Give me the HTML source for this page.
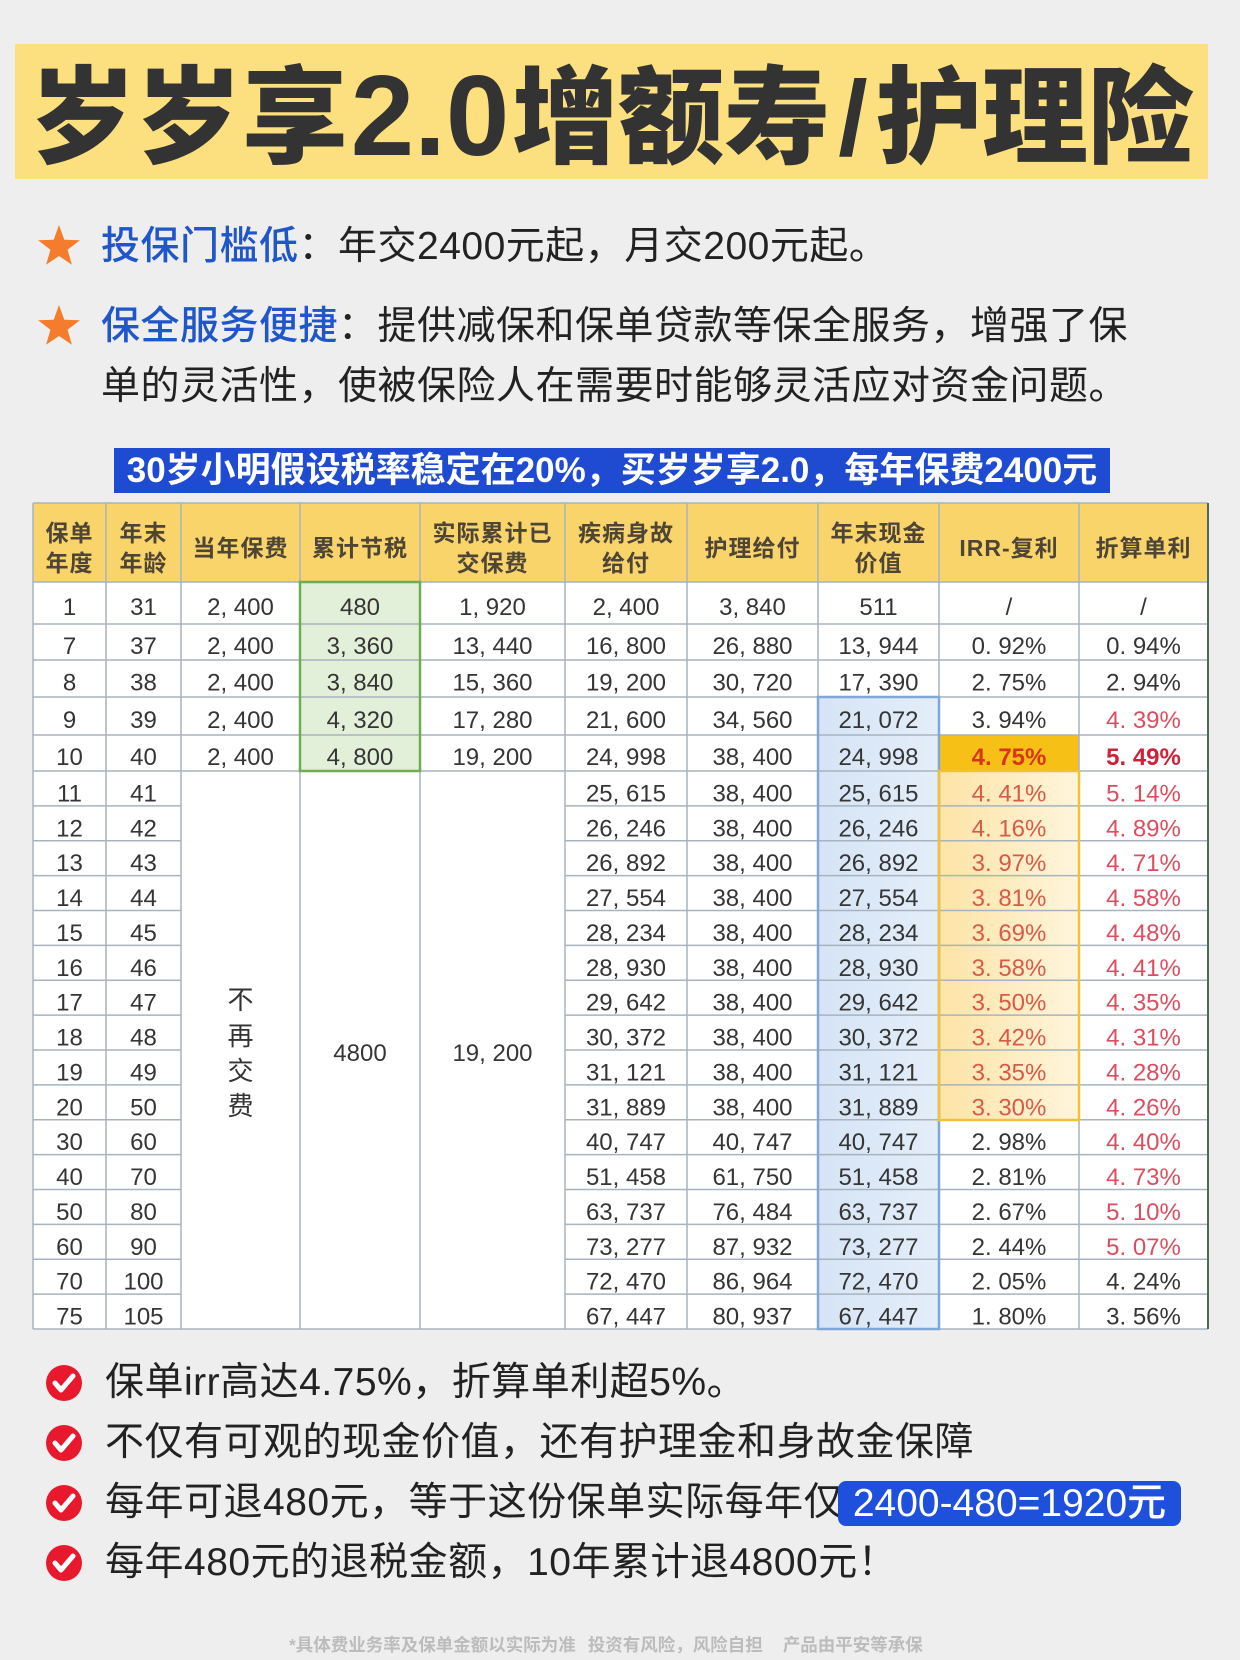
<!DOCTYPE html>
<html><head><meta charset="utf-8">
<style>
*{margin:0;padding:0;box-sizing:border-box}
html,body{width:1240px;height:1660px;overflow:hidden}
body{position:relative;background:#eeeeee;font-family:"Liberation Sans","Noto Sans CJK SC",sans-serif;color:#222}
.abs{position:absolute;white-space:nowrap}
#banner{left:15px;top:44px;width:1193px;height:135px;background:#fcdf7e}
#title{left:30px;top:64px;font-size:106px;line-height:106px;font-weight:900;color:#333}
#title .d{display:inline-block;width:164px;text-align:center;font-size:114px;line-height:106px}
#title .s{display:inline-block;width:46px;text-align:center}
.bl{font-size:39px;line-height:60px;color:#222;letter-spacing:0.5px}
.blue{color:#1f56c9;font-weight:500}
#bbar{left:114px;top:448px;width:996px;height:45px;background:#1e4bd2;color:#fff;font-weight:bold;font-size:35px;line-height:45px;text-align:center}
#box{left:838px;top:1481px;width:343px;height:45px;background:#1e50dc;border-radius:8px;color:#fff;font-size:39px;line-height:45px;text-align:center;font-weight:500}
#foot{left:289px;top:1635px;font-size:17.5px;line-height:20px;color:#bcbcbc;font-weight:bold}
svg text{font-family:"Liberation Sans","Noto Sans CJK SC",sans-serif}
.n{font-size:24px;fill:#353535;text-anchor:middle}
.h{font-size:23px;font-weight:bold;fill:#4e4536;text-anchor:middle;letter-spacing:1px}
.r1{fill:#d95a48}
.r2{fill:#dc4d5f}
.bb1{fill:#d7361a;font-weight:bold}
.bb2{fill:#cf2238;font-weight:bold}
.v{font-size:26px;fill:#333;text-anchor:middle}
</style></head><body>

<div id="banner" class="abs"></div>
<div id="title" class="abs">岁岁享<span class="d">2.0</span>增额寿<span class="s">/</span>护理险</div>

<svg class="abs" style="left:0;top:0" width="1240" height="1660" viewBox="0 0 1240 1660">
  <defs>
    <linearGradient id="yg" x1="0" y1="0" x2="1" y2="0">
      <stop offset="0" stop-color="#fde4a6"/>
      <stop offset="1" stop-color="#fff5dc"/>
    </linearGradient>
    <linearGradient id="bg" x1="0" y1="0" x2="1" y2="0">
      <stop offset="0" stop-color="#d5e4f5"/>
      <stop offset="1" stop-color="#e4eef9"/>
    </linearGradient>
  </defs>
  <!-- stars -->
  <polygon transform="translate(59,247)" fill="#f47c2c" points="0,-22 5.29,-7.28 20.92,-6.8 8.56,2.78 12.94,17.8 0,9 -12.94,17.8 -8.56,2.78 -20.92,-6.8 -5.29,-7.28"/>
  <polygon transform="translate(59,327)" fill="#f47c2c" points="0,-22 5.29,-7.28 20.92,-6.8 8.56,2.78 12.94,17.8 0,9 -12.94,17.8 -8.56,2.78 -20.92,-6.8 -5.29,-7.28"/>
  <!-- checks -->
  <g fill="#e8192c"><circle cx="64" cy="1383" r="18"/><circle cx="64" cy="1443" r="18"/><circle cx="64" cy="1503" r="18"/><circle cx="64" cy="1563" r="18"/></g>
  <g fill="none" stroke="#fff" stroke-width="5" stroke-linecap="round" stroke-linejoin="round">
    <polyline points="55,1383 61,1390 73,1376"/><polyline points="55,1443 61,1450 73,1436"/><polyline points="55,1503 61,1510 73,1496"/><polyline points="55,1563 61,1570 73,1556"/>
  </g>

  <!-- table backgrounds -->
  <rect x="33" y="503" width="1175" height="826" fill="#fff"/>
  <rect x="33" y="503" width="1175" height="79" fill="#f9d46b"/>
  <rect x="300" y="582" width="120" height="189" fill="#e2efd9"/>
  <rect x="818" y="697" width="121" height="632" fill="url(#bg)"/>
  <rect x="939" y="735" width="140" height="36" fill="#f7c017"/>
  <rect x="939" y="771" width="140" height="349" fill="url(#yg)"/>

  <!-- grid -->
  <g stroke="#a7b3bf" stroke-width="1.5">
    <line x1="33" y1="503" x2="1208" y2="503"/>
    <line x1="33" y1="582" x2="1208" y2="582"/>
    <line x1="33" y1="624" x2="1208" y2="624"/>
    <line x1="33" y1="660" x2="1208" y2="660"/>
    <line x1="33" y1="697" x2="1208" y2="697"/>
    <line x1="33" y1="735" x2="1208" y2="735"/>
    <line x1="33" y1="771" x2="1208" y2="771"/>
    <line x1="33" y1="1329" x2="1208" y2="1329"/>
  </g>
  <g stroke="#a7b3bf" stroke-width="1.5">
    <line x1="33" y1="805.9" x2="181" y2="805.9"/><line x1="565" y1="805.9" x2="1208" y2="805.9"/>
    <line x1="33" y1="840.8" x2="181" y2="840.8"/><line x1="565" y1="840.8" x2="1208" y2="840.8"/>
    <line x1="33" y1="875.6" x2="181" y2="875.6"/><line x1="565" y1="875.6" x2="1208" y2="875.6"/>
    <line x1="33" y1="910.5" x2="181" y2="910.5"/><line x1="565" y1="910.5" x2="1208" y2="910.5"/>
    <line x1="33" y1="945.4" x2="181" y2="945.4"/><line x1="565" y1="945.4" x2="1208" y2="945.4"/>
    <line x1="33" y1="980.3" x2="181" y2="980.3"/><line x1="565" y1="980.3" x2="1208" y2="980.3"/>
    <line x1="33" y1="1015.1" x2="181" y2="1015.1"/><line x1="565" y1="1015.1" x2="1208" y2="1015.1"/>
    <line x1="33" y1="1050" x2="181" y2="1050"/><line x1="565" y1="1050" x2="1208" y2="1050"/>
    <line x1="33" y1="1084.9" x2="181" y2="1084.9"/><line x1="565" y1="1084.9" x2="1208" y2="1084.9"/>
    <line x1="33" y1="1119.8" x2="181" y2="1119.8"/><line x1="565" y1="1119.8" x2="1208" y2="1119.8"/>
    <line x1="33" y1="1154.6" x2="181" y2="1154.6"/><line x1="565" y1="1154.6" x2="1208" y2="1154.6"/>
    <line x1="33" y1="1189.5" x2="181" y2="1189.5"/><line x1="565" y1="1189.5" x2="1208" y2="1189.5"/>
    <line x1="33" y1="1224.4" x2="181" y2="1224.4"/><line x1="565" y1="1224.4" x2="1208" y2="1224.4"/>
    <line x1="33" y1="1259.3" x2="181" y2="1259.3"/><line x1="565" y1="1259.3" x2="1208" y2="1259.3"/>
    <line x1="33" y1="1294.1" x2="181" y2="1294.1"/><line x1="565" y1="1294.1" x2="1208" y2="1294.1"/>
  </g>
  <g stroke="#a7b3bf" stroke-width="1.5">
    <line x1="33" y1="503" x2="33" y2="1329"/>
    <line x1="106" y1="503" x2="106" y2="1329"/>
    <line x1="181" y1="503" x2="181" y2="1329"/>
    <line x1="300" y1="503" x2="300" y2="1329"/>
    <line x1="420" y1="503" x2="420" y2="1329"/>
    <line x1="565" y1="503" x2="565" y2="1329"/>
    <line x1="687" y1="503" x2="687" y2="1329"/>
    <line x1="818" y1="503" x2="818" y2="1329"/>
    <line x1="939" y1="503" x2="939" y2="1329"/>
    <line x1="1079" y1="503" x2="1079" y2="1329"/>
  </g>
  <line x1="1208" y1="503" x2="1208" y2="1329" stroke="#4b6b57" stroke-width="2"/>
  <!-- highlight borders -->
  <rect x="300" y="582" width="120" height="189" fill="none" stroke="#70ad50" stroke-width="2.5"/>
  <rect x="818" y="697" width="121" height="632" fill="none" stroke="#7fa7d8" stroke-width="2.5"/>
  <rect x="939" y="771" width="140" height="349" fill="none" stroke="#f0c238" stroke-width="2.5"/>

  <!-- header -->
  <text class="h" x="69.5" y="541">保单</text><text class="h" x="69.5" y="571">年度</text>
  <text class="h" x="143.5" y="541">年末</text><text class="h" x="143.5" y="571">年龄</text>
  <text class="h" x="240.5" y="556">当年保费</text>
  <text class="h" x="360" y="556">累计节税</text>
  <text class="h" x="492.5" y="541">实际累计已</text><text class="h" x="492.5" y="571">交保费</text>
  <text class="h" x="626" y="541">疾病身故</text><text class="h" x="626" y="571">给付</text>
  <text class="h" x="752.5" y="556">护理给付</text>
  <text class="h" x="878.5" y="541">年末现金</text><text class="h" x="878.5" y="571">价值</text>
  <text class="h" x="1009" y="556">IRR-复利</text>
  <text class="h" x="1143.5" y="556">折算单利</text>

  <!-- rows 1-10 -->
  <g class="n">
    <text x="69.5" y="615">1</text><text x="143.5" y="615">31</text><text x="240.5" y="615">2, 400</text><text x="360" y="615">480</text><text x="492.5" y="615">1, 920</text><text x="626" y="615">2, 400</text><text x="752.5" y="615">3, 840</text><text x="878.5" y="615">511</text><text x="1009" y="615">/</text><text x="1143.5" y="615">/</text>
    <text x="69.5" y="654">7</text><text x="143.5" y="654">37</text><text x="240.5" y="654">2, 400</text><text x="360" y="654">3, 360</text><text x="492.5" y="654">13, 440</text><text x="626" y="654">16, 800</text><text x="752.5" y="654">26, 880</text><text x="878.5" y="654">13, 944</text><text x="1009" y="654">0. 92%</text><text x="1143.5" y="654">0. 94%</text>
    <text x="69.5" y="690.5">8</text><text x="143.5" y="690.5">38</text><text x="240.5" y="690.5">2, 400</text><text x="360" y="690.5">3, 840</text><text x="492.5" y="690.5">15, 360</text><text x="626" y="690.5">19, 200</text><text x="752.5" y="690.5">30, 720</text><text x="878.5" y="690.5">17, 390</text><text x="1009" y="690.5">2. 75%</text><text x="1143.5" y="690.5">2. 94%</text>
    <text x="69.5" y="728">9</text><text x="143.5" y="728">39</text><text x="240.5" y="728">2, 400</text><text x="360" y="728">4, 320</text><text x="492.5" y="728">17, 280</text><text x="626" y="728">21, 600</text><text x="752.5" y="728">34, 560</text><text x="878.5" y="728">21, 072</text><text x="1009" y="728">3. 94%</text><text x="1143.5" y="728" class="r2">4. 39%</text>
    <text x="69.5" y="765">10</text><text x="143.5" y="765">40</text><text x="240.5" y="765">2, 400</text><text x="360" y="765">4, 800</text><text x="492.5" y="765">19, 200</text><text x="626" y="765">24, 998</text><text x="752.5" y="765">38, 400</text><text x="878.5" y="765">24, 998</text><text x="1009" y="765" class="bb1">4. 75%</text><text x="1143.5" y="765" class="bb2">5. 49%</text>
  </g>

  <!-- merged cells -->
  <text class="v" x="240.5" y="1009">不</text>
  <text class="v" x="240.5" y="1045">再</text>
  <text class="v" x="240.5" y="1080">交</text>
  <text class="v" x="240.5" y="1115">费</text>
  <text class="n" x="360" y="1061">4800</text>
  <text class="n" x="492.5" y="1061">19, 200</text>

  <!-- rows 11-75 -->
  <g class="n">
    <text x="69.5" y="801.4">11</text><text x="143.5" y="801.4">41</text><text x="626" y="801.4">25, 615</text><text x="752.5" y="801.4">38, 400</text><text x="878.5" y="801.4">25, 615</text><text x="1009" y="801.4" class="r1">4. 41%</text><text x="1143.5" y="801.4" class="r2">5. 14%</text>
    <text x="69.5" y="836.3">12</text><text x="143.5" y="836.3">42</text><text x="626" y="836.3">26, 246</text><text x="752.5" y="836.3">38, 400</text><text x="878.5" y="836.3">26, 246</text><text x="1009" y="836.3" class="r1">4. 16%</text><text x="1143.5" y="836.3" class="r2">4. 89%</text>
    <text x="69.5" y="871.2">13</text><text x="143.5" y="871.2">43</text><text x="626" y="871.2">26, 892</text><text x="752.5" y="871.2">38, 400</text><text x="878.5" y="871.2">26, 892</text><text x="1009" y="871.2" class="r1">3. 97%</text><text x="1143.5" y="871.2" class="r2">4. 71%</text>
    <text x="69.5" y="906.1">14</text><text x="143.5" y="906.1">44</text><text x="626" y="906.1">27, 554</text><text x="752.5" y="906.1">38, 400</text><text x="878.5" y="906.1">27, 554</text><text x="1009" y="906.1" class="r1">3. 81%</text><text x="1143.5" y="906.1" class="r2">4. 58%</text>
    <text x="69.5" y="940.9">15</text><text x="143.5" y="940.9">45</text><text x="626" y="940.9">28, 234</text><text x="752.5" y="940.9">38, 400</text><text x="878.5" y="940.9">28, 234</text><text x="1009" y="940.9" class="r1">3. 69%</text><text x="1143.5" y="940.9" class="r2">4. 48%</text>
    <text x="69.5" y="975.8">16</text><text x="143.5" y="975.8">46</text><text x="626" y="975.8">28, 930</text><text x="752.5" y="975.8">38, 400</text><text x="878.5" y="975.8">28, 930</text><text x="1009" y="975.8" class="r1">3. 58%</text><text x="1143.5" y="975.8" class="r2">4. 41%</text>
    <text x="69.5" y="1010.7">17</text><text x="143.5" y="1010.7">47</text><text x="626" y="1010.7">29, 642</text><text x="752.5" y="1010.7">38, 400</text><text x="878.5" y="1010.7">29, 642</text><text x="1009" y="1010.7" class="r1">3. 50%</text><text x="1143.5" y="1010.7" class="r2">4. 35%</text>
    <text x="69.5" y="1045.6">18</text><text x="143.5" y="1045.6">48</text><text x="626" y="1045.6">30, 372</text><text x="752.5" y="1045.6">38, 400</text><text x="878.5" y="1045.6">30, 372</text><text x="1009" y="1045.6" class="r1">3. 42%</text><text x="1143.5" y="1045.6" class="r2">4. 31%</text>
    <text x="69.5" y="1080.4">19</text><text x="143.5" y="1080.4">49</text><text x="626" y="1080.4">31, 121</text><text x="752.5" y="1080.4">38, 400</text><text x="878.5" y="1080.4">31, 121</text><text x="1009" y="1080.4" class="r1">3. 35%</text><text x="1143.5" y="1080.4" class="r2">4. 28%</text>
    <text x="69.5" y="1115.3">20</text><text x="143.5" y="1115.3">50</text><text x="626" y="1115.3">31, 889</text><text x="752.5" y="1115.3">38, 400</text><text x="878.5" y="1115.3">31, 889</text><text x="1009" y="1115.3" class="r1">3. 30%</text><text x="1143.5" y="1115.3" class="r2">4. 26%</text>
    <text x="69.5" y="1150.2">30</text><text x="143.5" y="1150.2">60</text><text x="626" y="1150.2">40, 747</text><text x="752.5" y="1150.2">40, 747</text><text x="878.5" y="1150.2">40, 747</text><text x="1009" y="1150.2">2. 98%</text><text x="1143.5" y="1150.2" class="r2">4. 40%</text>
    <text x="69.5" y="1185.1">40</text><text x="143.5" y="1185.1">70</text><text x="626" y="1185.1">51, 458</text><text x="752.5" y="1185.1">61, 750</text><text x="878.5" y="1185.1">51, 458</text><text x="1009" y="1185.1">2. 81%</text><text x="1143.5" y="1185.1" class="r2">4. 73%</text>
    <text x="69.5" y="1219.9">50</text><text x="143.5" y="1219.9">80</text><text x="626" y="1219.9">63, 737</text><text x="752.5" y="1219.9">76, 484</text><text x="878.5" y="1219.9">63, 737</text><text x="1009" y="1219.9">2. 67%</text><text x="1143.5" y="1219.9" class="r2">5. 10%</text>
    <text x="69.5" y="1254.8">60</text><text x="143.5" y="1254.8">90</text><text x="626" y="1254.8">73, 277</text><text x="752.5" y="1254.8">87, 932</text><text x="878.5" y="1254.8">73, 277</text><text x="1009" y="1254.8">2. 44%</text><text x="1143.5" y="1254.8" class="r2">5. 07%</text>
    <text x="69.5" y="1289.7">70</text><text x="143.5" y="1289.7">100</text><text x="626" y="1289.7">72, 470</text><text x="752.5" y="1289.7">86, 964</text><text x="878.5" y="1289.7">72, 470</text><text x="1009" y="1289.7">2. 05%</text><text x="1143.5" y="1289.7">4. 24%</text>
    <text x="69.5" y="1324.6">75</text><text x="143.5" y="1324.6">105</text><text x="626" y="1324.6">67, 447</text><text x="752.5" y="1324.6">80, 937</text><text x="878.5" y="1324.6">67, 447</text><text x="1009" y="1324.6">1. 80%</text><text x="1143.5" y="1324.6">3. 56%</text>
  </g>
</svg>

<div class="abs bl" style="left:101px;top:217px"><span class="blue">投保门槛低</span>：年交2400元起，月交200元起。</div>
<div class="abs bl" style="left:101px;top:297px"><span class="blue">保全服务便捷</span>：提供减保和保单贷款等保全服务，增强了保</div>
<div class="abs bl" style="left:101px;top:357px">单的灵活性，使被保险人在需要时能够灵活应对资金问题。</div>

<div id="bbar" class="abs">30岁小明假设税率稳定在20%，买岁岁享2.0，每年保费2400元</div>

<div class="abs bl" style="left:105px;top:1353px">保单irr高达4.75%，折算单利超5%。</div>
<div class="abs bl" style="left:105px;top:1413px">不仅有可观的现金价值，还有护理金和身故金保障</div>
<div class="abs bl" style="left:105px;top:1473px">每年可退480元，等于这份保单实际每年仅</div>
<div id="box" class="abs">2400-480=1920元</div>
<div class="abs bl" style="left:105px;top:1533px">每年480元的退税金额，10年累计退4800元！</div>

<div id="foot" class="abs"><span>*具体费业务率及保单金额以实际为准</span><span style="margin-left:12px">投资有风险，风险自担</span><span style="margin-left:20px">产品由平安等承保</span></div>

</body></html>
